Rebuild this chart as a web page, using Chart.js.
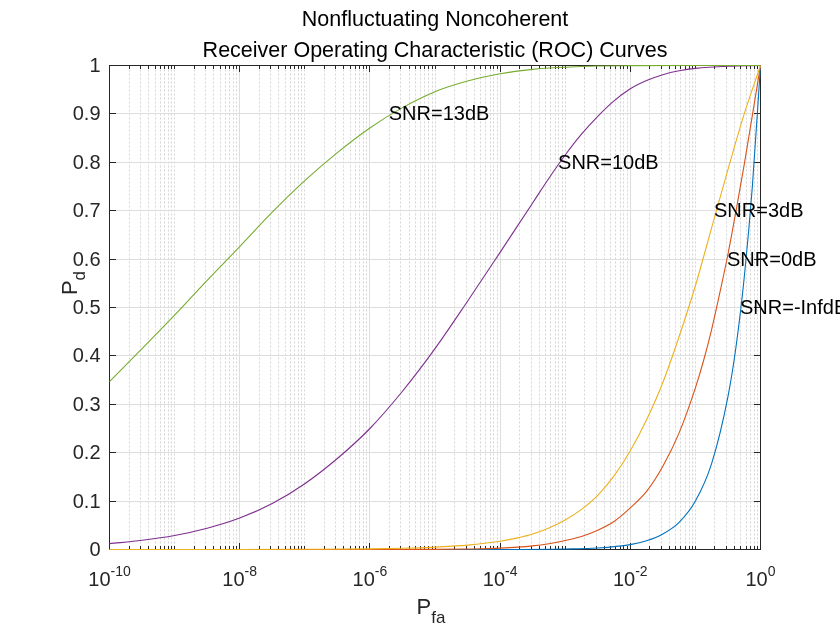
<!DOCTYPE html>
<html><head><meta charset="utf-8">
<script src="https://cdn.jsdelivr.net/npm/chart.js@4.4.0/dist/chart.umd.min.js"></script>
<style>html,body{margin:0;padding:0;background:#fff;}#wrap{width:840px;height:630px;position:relative}</style>
</head><body><div id="wrap"><canvas id="c" width="840" height="630"></canvas></div>
<script>
// ---- data ----
const titleLines = ['Nonfluctuating Noncoherent', 'Receiver Operating Characteristic (ROC) Curves'];
const seriesNames = ['SNR=-InfdB', 'SNR=0dB', 'SNR=3dB', 'SNR=10dB', 'SNR=13dB'];
const seriesColors = ['#0072BD', '#D95319', '#EDB120', '#7E2F8E', '#77AC30'];

// log10(Pfa) sample positions and Pd values per curve
const expInf = [-10, -4, -3, -2.5, -2, -1.75, -1.5, -1.25, -1, -0.75, -0.5, -0.375, -0.25, -0.125, 0];
const pdInf  = [0, 0.0001, 0.001, 0.003, 0.01, 0.018, 0.032, 0.056, 0.1, 0.178, 0.316, 0.42, 0.562, 0.75, 1];

const exp0dB = [-10, -6, -5, -4.5, -4, -3.5, -3.25, -3, -2.75, -2.5, -2.25, -2, -1.75, -1.5, -1.25, -1, -0.875, -0.75, -0.625, -0.5, -0.375, -0.25, -0.125, 0];
const pd0dB  = [0, 0.00003, 0.0003, 0.001, 0.0028, 0.0075, 0.012, 0.0185, 0.027, 0.04, 0.058, 0.086, 0.12, 0.172, 0.241, 0.334, 0.39, 0.455, 0.53, 0.61, 0.70, 0.795, 0.897, 1];

const exp3dB = [-10, -8, -7, -6, -5.5, -5, -4.5, -4, -3.75, -3.5, -3.25, -3, -2.75, -2.5, -2.25, -2, -1.75, -1.5, -1.25, -1, -0.75, -0.5, -0.25, 0];
const pd3dB  = [0, 0.0001, 0.0004, 0.0012, 0.0025, 0.005, 0.009, 0.017, 0.0235, 0.032, 0.0445, 0.061, 0.083, 0.112, 0.152, 0.204, 0.268, 0.345, 0.44, 0.545, 0.665, 0.785, 0.9, 1];

const exp10dB = [-10, -9.5, -9, -8.5, -8, -7.5, -7, -6.5, -6, -5.5, -5, -4.5, -4, -3.75, -3.5, -3.25, -3, -2.75, -2.5, -2.25, -2, -1.75, -1.5, -1.25, -1, -0.5, 0];
const pd10dB  = [0.012, 0.019, 0.029, 0.044, 0.065, 0.095, 0.136, 0.188, 0.25, 0.327, 0.415, 0.513, 0.614, 0.665, 0.716, 0.767, 0.815, 0.858, 0.895, 0.927, 0.952, 0.969, 0.981, 0.989, 0.994, 0.9985, 1];

const exp13dB = [-10, -9.5, -9, -8.5, -8, -7.5, -7, -6.5, -6, -5.5, -5, -4.5, -4, -3.5, -3, -2.5, -2, -1, 0];
const pd13dB  = [0.347, 0.415, 0.484, 0.556, 0.626, 0.697, 0.762, 0.82, 0.871, 0.913, 0.946, 0.968, 0.983, 0.992, 0.9965, 0.999, 0.9997, 1, 1];

const yTickValues = [0, 0.1, 0.2, 0.3, 0.4, 0.5, 0.6, 0.7, 0.8, 0.9, 1];
const yTickLabels = ['0', '0.1', '0.2', '0.3', '0.4', '0.5', '0.6', '0.7', '0.8', '0.9', '1'];
const xTickExponents = [-10, -8, -6, -4, -2, 0];
const xTickLabels = ['-10', '-8', '-6', '-4', '-2', '0'];

// curve annotations: log10(Pfa) and Pd where each text starts
const annoExp = [-0.315, -0.515, -0.714, -3.11, -5.71];
const annoPd  = [0.5, 0.6, 0.7, 0.8, 0.9];

const xLabelMain = 'P', xLabelSub = 'fa';
const yLabelMain = 'P', yLabelSub = 'd';

// ---- build chart ----
const curveExps = [expInf, exp0dB, exp3dB, exp10dB, exp13dB];
const curvePds = [pdInf, pd0dB, pd3dB, pd10dB, pd13dB];
const FONT = '"Liberation Sans", Arial, Helvetica, sans-serif';
const AX = '#262626';

const datasets = seriesNames.map((name, i) => ({
  label: name,
  data: curveExps[i].map((e, j) => ({ x: Math.pow(10, e), y: curvePds[i][j] })),
  borderColor: seriesColors[i],
  backgroundColor: seriesColors[i],
  borderWidth: 1.1,
  pointRadius: 0,
  fill: false,
  cubicInterpolationMode: 'monotone',
  clip: false,
  order: 4 - i
}));

const crisp = v => Math.round(v - 0.5) + 0.5;

const matlabAxes = {
  id: 'matlabAxes',
  beforeDatasetsDraw(chart) {
    const ctx = chart.ctx, xs = chart.scales.x, ys = chart.scales.y, ca = chart.chartArea;
    const L = crisp(ca.left), R = crisp(ca.right), T = crisp(ca.top), B = crisp(ca.bottom);
    ctx.save();
    ctx.lineWidth = 1;
    // minor vertical grid (dotted)
    ctx.strokeStyle = '#d6d6d6';
    ctx.setLineDash([2, 2]);
    for (let e = -10; e <= -1; e++) {
      for (let k = 1; k <= 9; k++) {
        if (k === 1 && xTickExponents.includes(e)) continue;
        const px = crisp(xs.getPixelForValue(k * Math.pow(10, e)));
        ctx.beginPath(); ctx.moveTo(px, T); ctx.lineTo(px, B); ctx.stroke();
      }
    }
    ctx.setLineDash([]);
    // major grid
    ctx.strokeStyle = '#dedede';
    xTickExponents.forEach(e => {
      const px = crisp(xs.getPixelForValue(Math.pow(10, e)));
      ctx.beginPath(); ctx.moveTo(px, T); ctx.lineTo(px, B); ctx.stroke();
    });
    yTickValues.forEach(v => {
      const py = crisp(ys.getPixelForValue(v));
      ctx.beginPath(); ctx.moveTo(L, py); ctx.lineTo(R, py); ctx.stroke();
    });
    // ticks
    ctx.strokeStyle = AX;
    for (let e = -10; e <= 0; e++) {
      for (let k = 1; k <= 9; k++) {
        if (e === 0 && k > 1) break;
        const major = (k === 1 && xTickExponents.includes(e));
        const len = major ? 6.5 : 3.5;
        const px = crisp(xs.getPixelForValue(k * Math.pow(10, e)));
        ctx.beginPath(); ctx.moveTo(px, B); ctx.lineTo(px, B - len); ctx.stroke();
        ctx.beginPath(); ctx.moveTo(px, T); ctx.lineTo(px, T + len); ctx.stroke();
      }
    }
    yTickValues.forEach(v => {
      const py = crisp(ys.getPixelForValue(v));
      ctx.beginPath(); ctx.moveTo(L, py); ctx.lineTo(L + 6.5, py); ctx.stroke();
      ctx.beginPath(); ctx.moveTo(R, py); ctx.lineTo(R - 6.5, py); ctx.stroke();
    });
    // box
    ctx.strokeRect(L, T, R - L, B - T);

    // tick labels
    ctx.fillStyle = AX;
    ctx.font = '20px ' + FONT;
    ctx.textAlign = 'right'; ctx.textBaseline = 'middle';
    yTickValues.forEach((v, i) => {
      ctx.fillText(yTickLabels[i], L - 9, ys.getPixelForValue(v) + 1);
    });
    ctx.textBaseline = 'alphabetic'; ctx.textAlign = 'left';
    xTickExponents.forEach((e, i) => {
      const px = xs.getPixelForValue(Math.pow(10, e));
      ctx.font = '20px ' + FONT;
      const wb = ctx.measureText('10').width;
      ctx.font = '14px ' + FONT;
      const we = ctx.measureText(xTickLabels[i]).width;
      const sx = px - (wb + we) / 2;
      ctx.font = '20px ' + FONT;
      ctx.fillText('10', sx, 586);
      ctx.font = '14px ' + FONT;
      ctx.fillText(xTickLabels[i], sx + wb, 576);
    });

    // title
    ctx.fillStyle = '#000';
    ctx.font = '21.5px ' + FONT;
    ctx.textAlign = 'center';
    const cx = (ca.left + ca.right) / 2;
    ctx.fillText(titleLines[0], cx, 26);
    ctx.fillText(titleLines[1], cx, 56.5);

    // x label
    ctx.fillStyle = AX;
    ctx.textAlign = 'left';
    ctx.font = '22px ' + FONT;
    const wP = ctx.measureText(xLabelMain).width;
    ctx.font = '17px ' + FONT;
    const wS = ctx.measureText(xLabelSub).width;
    const sx = 431 - (wP + wS) / 2;
    ctx.font = '22px ' + FONT;
    ctx.fillText(xLabelMain, sx, 614);
    ctx.font = '17px ' + FONT;
    ctx.fillText(xLabelSub, sx + wP, 623);

    // y label (rotated)
    ctx.save();
    ctx.translate(77, 283);
    ctx.rotate(-Math.PI / 2);
    ctx.font = '22px ' + FONT;
    const wPy = ctx.measureText(yLabelMain).width;
    ctx.font = '17px ' + FONT;
    const wSy = ctx.measureText(yLabelSub).width;
    const sy = -(wPy + wSy) / 2;
    ctx.font = '22px ' + FONT;
    ctx.fillText(yLabelMain, sy, 0);
    ctx.font = '17px ' + FONT;
    ctx.fillText(yLabelSub, sy + wPy, 8);
    ctx.restore();
    ctx.restore();
  },
  afterDatasetsDraw(chart) {
    const ctx = chart.ctx, xs = chart.scales.x, ys = chart.scales.y;
    ctx.save();
    ctx.fillStyle = '#000';
    ctx.font = '20px ' + FONT;
    ctx.textAlign = 'left'; ctx.textBaseline = 'middle';
    seriesNames.forEach((n, i) => {
      ctx.fillText(n, xs.getPixelForValue(Math.pow(10, annoExp[i])), ys.getPixelForValue(annoPd[i]) + 1);
    });
    ctx.restore();
  }
};

new Chart(document.getElementById('c'), {
  type: 'line',
  data: { datasets },
  options: {
    responsive: false,
    animation: false,
    devicePixelRatio: 1,
    layout: { padding: { left: 109.5, right: 79.5, top: 65.5, bottom: 80.5 } },
    plugins: { legend: { display: false }, tooltip: { enabled: false }, title: { display: false } },
    scales: {
      x: { type: 'logarithmic', min: 1e-10, max: 1, display: false },
      y: { type: 'linear', min: 0, max: 1, display: false }
    }
  },
  plugins: [matlabAxes]
});
</script>
</body></html>
